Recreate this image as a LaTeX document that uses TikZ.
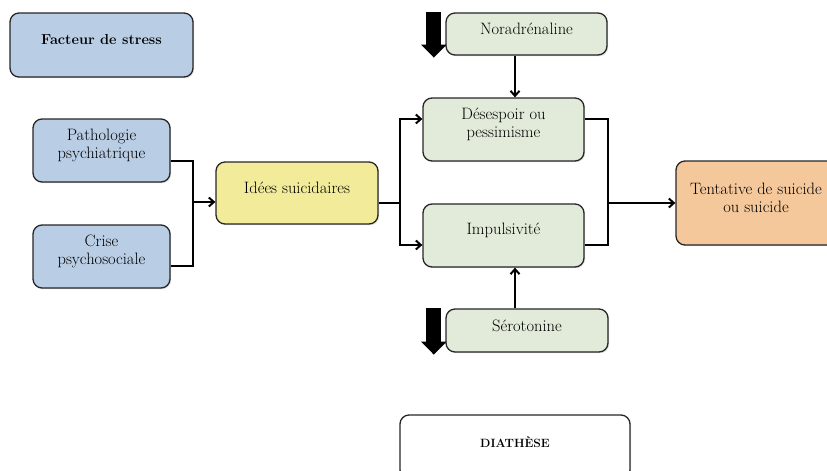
\documentclass[tikz,border=0pt]{standalone}
\usetikzlibrary{arrows.meta,shadows}
\definecolor{stressblue}{RGB}{185,205,229}
\definecolor{ideeyellow}{RGB}{242,236,154}
\definecolor{neurogreen}{RGB}{226,235,217}
\definecolor{actorange}{RGB}{245,200,155}
\begin{document}
\begin{tikzpicture}[x=1pt,y=-1pt,
  box/.style={draw=black!85,line width=1.3pt,rounded corners=9pt,inner sep=0pt,
    drop shadow={shadow xshift=1.2pt,shadow yshift=-1.2pt,opacity=0.25}},
  boxtext/.style={yshift=5pt,align=center,font=\fontsize{16.5}{17.5}\selectfont},
  boldtext/.style={yshift=5pt,font=\fontsize{14.5}{16}\selectfont\bfseries},
  link/.style={line width=2pt},
  arrow/.style={link,-{Straight Barb[length=5pt,width=9pt]}},
  bigdown/.style={line width=15pt,-{Triangle[width=25pt,length=13pt]}}]
\clip (0,0) rectangle (827,471);
\node[box,fill=stressblue,minimum width=183pt,minimum height=64pt,
  label={[boldtext]center:Facteur de stress}] (stress) at (101.5,45) {};
\node[box,fill=stressblue,minimum width=137pt,minimum height=63pt,
  label={[boxtext]center:{Pathologie\\psychiatrique}}] (patho) at (101.5,150.5) {};
\node[box,fill=stressblue,minimum width=137pt,minimum height=63pt,
  label={[boxtext]center:{Crise\\psychosociale}}] (crise) at (101.5,256.5) {};
\node[box,fill=ideeyellow,minimum width=162pt,minimum height=62pt,
  label={[boxtext]center:Idées suicidaires}] (idees) at (297,193) {};
\node[box,fill=neurogreen,minimum width=161pt,minimum height=42pt,
  label={[boxtext]center:Noradrénaline}] (nora) at (526.5,34) {};
\node[box,fill=neurogreen,minimum width=161pt,minimum height=63pt,
  label={[boxtext]center:{Désespoir ou\\pessimisme}}] (deses) at (503.5,129.5) {};
\node[box,fill=neurogreen,minimum width=161pt,minimum height=63pt,
  label={[boxtext]center:Impulsivité}] (impul) at (503.5,235.5) {};
\node[box,fill=neurogreen,minimum width=162pt,minimum height=43pt,
  label={[boxtext]center:Sérotonine}] (sero) at (527,330.5) {};
\node[box,fill=actorange,minimum width=160pt,minimum height=84pt,
  label={[boxtext]center:{Tentative de suicide\\ou suicide}}] (tenta) at (756,203) {};
\node[box,fill=white,minimum width=230pt,minimum height=64pt,
  label={[boldtext,font=\fontsize{12}{14}\selectfont\bfseries]center:DIATHÈSE}] (diath) at (515,447) {};
\coordinate (jl) at (193,202);
\coordinate (jm) at (400,203);
\coordinate (jr) at (608,203);
\draw[link] ([yshift=-10.5pt]patho.east) -| (jl) |- ([yshift=-9.5pt]crise.east);
\draw[arrow] (jl) -- (jl -| idees.west);
\draw[link] (jm -| idees.east) -- (jm);
\draw[arrow] (jm) |- ([yshift=10.5pt]deses.west);
\draw[arrow] (jm) |- ([yshift=-9.5pt]impul.west);
\draw[link] ([yshift=10.5pt]deses.east) -| (jr) |- ([yshift=-9.5pt]impul.east);
\draw[arrow] (jr) -- (tenta.west);
\draw[arrow] ([xshift=-11.5pt]nora.south) -- ([xshift=-11.5pt]nora.south |- deses.north);
\draw[arrow] ([xshift=-12pt]sero.north) -- ([xshift=-12pt]sero.north |- impul.south);
\draw[bigdown] ([xshift=-11.5pt]nora.north west) -- ([xshift=-11.5pt,yshift=-2pt]nora.south west);
\draw[bigdown] ([xshift=-11.5pt]sero.north west) -- ([xshift=-11.5pt,yshift=-2pt]sero.south west);
\end{tikzpicture}
\end{document}
